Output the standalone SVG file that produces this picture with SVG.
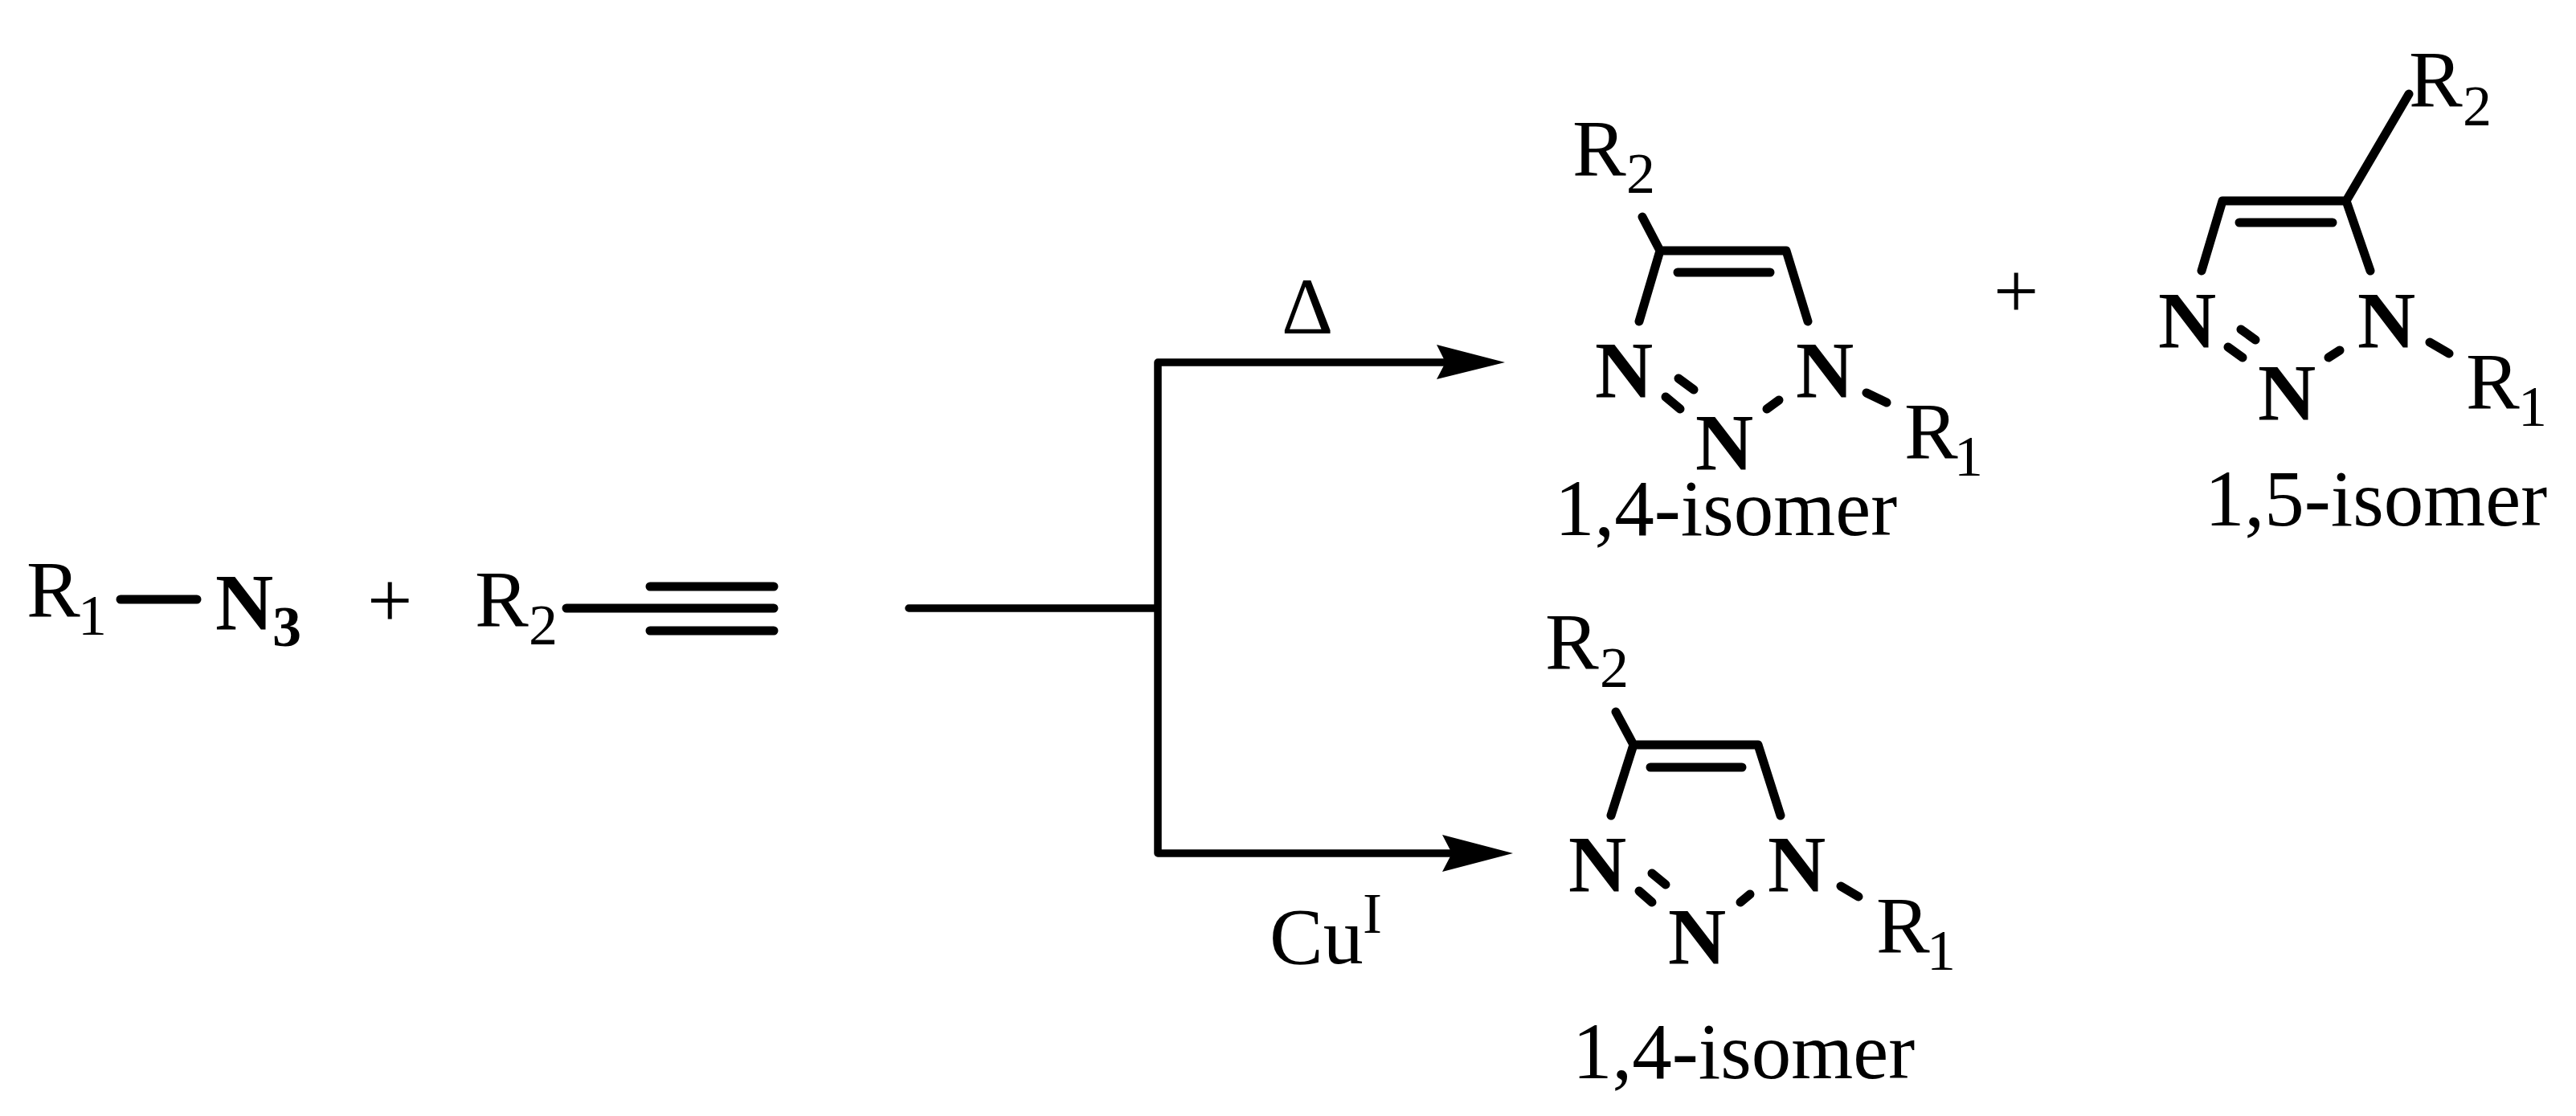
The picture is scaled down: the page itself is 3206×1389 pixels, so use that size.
<svg xmlns="http://www.w3.org/2000/svg" width="3206" height="1389" viewBox="0 0 3206 1389">
<style>
text{font-family:"Liberation Serif","Times New Roman",serif;font-size:100px;fill:#000}
.s{font-size:72px}
.b{font-weight:bold}
.cap{font-size:99px}
.bond{stroke:#000;stroke-width:11;stroke-linecap:round;stroke-linejoin:round;fill:none}
.conn{stroke:#000;stroke-width:9.5;stroke-linecap:round;stroke-linejoin:round;fill:none}
.head{fill:#000;stroke:none}
</style>
<rect width="3206" height="1389" fill="#fff"/>

<g id="azide">
<text x="33" y="767">R<tspan class="s" x="97" y="790">1</tspan></text>
<path class="bond" d="M150 746H245"/>
<text class="b" x="268" y="783">N<tspan class="s" x="339" y="804">3</tspan></text>
</g>
<g id="plus-1"><text x="457" y="781">+</text></g>
<g id="alkyne">
<text x="591" y="779">R<tspan class="s" x="658" y="802">2</tspan></text>
<path class="bond" d="M705 757H963M809 730H963M809 785H963"/>
</g>

<g id="connectors">
<path class="conn" d="M1131 757H1441M1830 451H1441V1062H1840"/>
<path class="head" d="M1873 451L1788 429L1799 451L1788 472Z"/>
<path class="head" d="M1883 1062L1795 1039L1807 1062L1795 1085Z"/>
</g>
<g id="label-heat"><text x="1595" y="415">Δ</text></g>
<g id="label-copper"><text x="1580" y="1199">Cu<tspan class="s" x="1696" y="1161">I</tspan></text></g>

<g id="product-thermal-14">
<text x="1957" y="218">R<tspan class="s" x="2024" y="240">2</tspan></text>
<path class="bond" d="M2044 270L2066 312M2040 400L2066 312H2223L2250 400M2088 339H2203M2089 471L2108 485M2073 494L2091 509M2214 498L2199 509M2323 489L2348 501"/>
<text class="b" x="1985" y="494">N</text>
<text class="b" x="2110" y="584">N</text>
<text class="b" x="2235" y="494">N</text>
<text x="2370" y="570">R<tspan class="s" x="2432" y="592">1</tspan></text>
<text class="cap" x="1935" y="666">1,4-isomer</text>
</g>
<g id="plus-2"><text x="2481" y="396">+</text></g>
<g id="product-thermal-15">
<text x="2998" y="132">R<tspan class="s" x="3065" y="156">2</tspan></text>
<path class="bond" d="M2998 117L2920 250M2740 337L2766 250H2920L2950 337M2787 277H2903M2789 410L2807 423M2773 432L2791 445M2912 436L2898 445M3024 426L3048 440"/>
<text class="b" x="2686" y="432">N</text>
<text class="b" x="2810" y="522">N</text>
<text class="b" x="2934" y="432">N</text>
<text x="3069" y="508">R<tspan class="s" x="3134" y="530">1</tspan></text>
<text class="cap" x="2744" y="654">1,5-isomer</text>
</g>
<g id="product-copper-14">
<text x="1923" y="832">R<tspan class="s" x="1991" y="855">2</tspan></text>
<path class="bond" d="M2011 886L2033 927M2005 1015L2033 927H2188L2216 1015M2054 955H2168M2056 1087L2073 1101M2040 1109L2056 1123M2178 1113L2166 1123M2291 1103L2313 1116"/>
<text class="b" x="1952" y="1109">N</text>
<text class="b" x="2076" y="1199">N</text>
<text class="b" x="2200" y="1109">N</text>
<text x="2335" y="1185">R<tspan class="s" x="2398" y="1207">1</tspan></text>
<text class="cap" x="1957" y="1342">1,4-isomer</text>
</g>
</svg>
